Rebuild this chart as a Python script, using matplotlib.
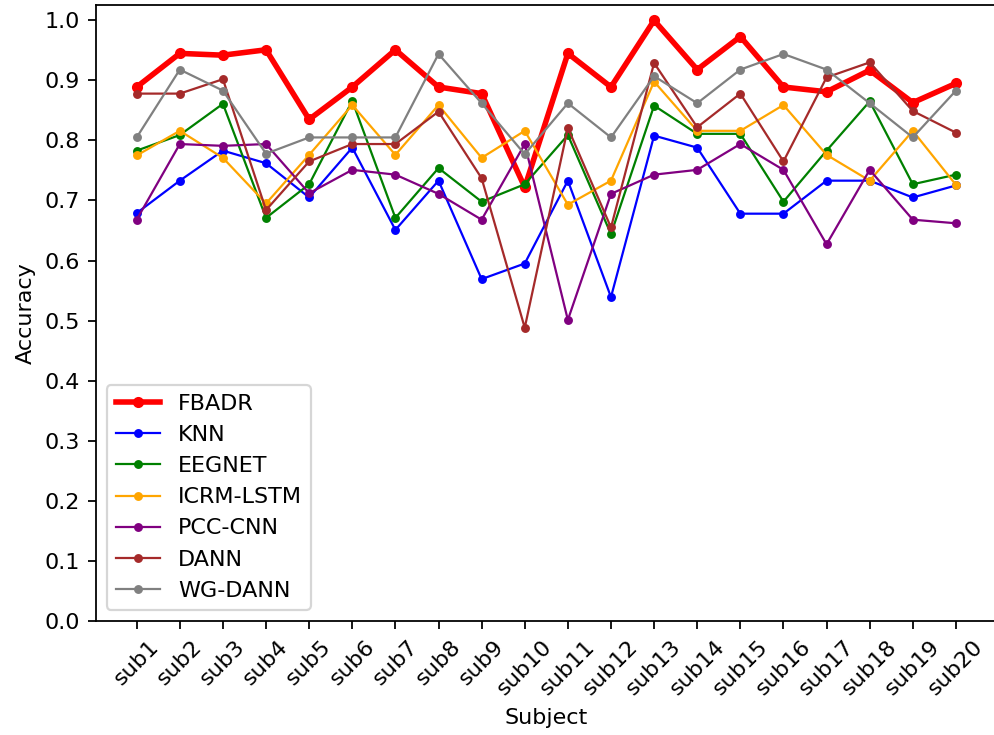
import numpy as np
import matplotlib
matplotlib.use("Agg")
import matplotlib.pyplot as plt

subjects = [f"sub{i}" for i in range(1, 21)]

fbadr = [0.889, 0.945, 0.942, 0.951, 0.835, 0.889, 0.951, 0.889, 0.878, 0.722,
         0.945, 0.889, 1.000, 0.918, 0.973, 0.889, 0.881, 0.917, 0.863, 0.895]
knn = [0.679, 0.733, 0.783, 0.762, 0.705, 0.788, 0.651, 0.733, 0.569, 0.595,
       0.733, 0.539, 0.808, 0.788, 0.678, 0.678, 0.733, 0.733, 0.705, 0.725]
eegnet = [0.783, 0.809, 0.861, 0.671, 0.727, 0.866, 0.671, 0.754, 0.698, 0.727,
          0.809, 0.644, 0.858, 0.811, 0.811, 0.698, 0.783, 0.865, 0.727, 0.743]
icrm_lstm = [0.775, 0.816, 0.771, 0.695, 0.776, 0.859, 0.776, 0.859, 0.771, 0.816,
             0.693, 0.733, 0.898, 0.816, 0.816, 0.859, 0.776, 0.733, 0.816, 0.726]
pcc_cnn = [0.668, 0.794, 0.791, 0.794, 0.712, 0.751, 0.743, 0.711, 0.668, 0.794,
           0.501, 0.711, 0.743, 0.751, 0.794, 0.751, 0.627, 0.751, 0.668, 0.662]
dann = [0.878, 0.878, 0.902, 0.684, 0.765, 0.794, 0.794, 0.848, 0.737, 0.488,
        0.821, 0.655, 0.929, 0.822, 0.878, 0.765, 0.905, 0.930, 0.849, 0.813]
wg_dann = [0.805, 0.918, 0.883, 0.778, 0.805, 0.805, 0.805, 0.944, 0.862, 0.777,
           0.862, 0.805, 0.907, 0.862, 0.918, 0.944, 0.918, 0.862, 0.805, 0.883]

series = [
    ("FBADR", fbadr, "red"),
    ("KNN", knn, "blue"),
    ("EEGNET", eegnet, "green"),
    ("ICRM-LSTM", icrm_lstm, "orange"),
    ("PCC-CNN", pcc_cnn, "purple"),
    ("DANN", dann, "brown"),
    ("WG-DANN", wg_dann, "gray"),
]

dpi = 160
fig = plt.figure(figsize=(994 / dpi, 735 / dpi), dpi=dpi)
# the original picture is cropped a little on the right, so the axes run past the edge
ax = fig.add_axes([0.0963, 0.1555, 0.9066, 0.8377])

x = np.arange(len(subjects))
for name, vals, color in series:
    if name == "FBADR":
        ax.plot(x, vals, marker="o", color=color, linewidth=2.5, markersize=4, label=name)
    else:
        ax.plot(x, vals, marker="o", color=color, linewidth=1, markersize=3, label=name)

ax.set_xticks(x)
ax.set_xticklabels(subjects, rotation=45)
ax.set_yticks(np.arange(0, 1.01, 0.1))
ax.set_ylim(bottom=0)
ax.set_xlabel("Subject")
ax.set_ylabel("Accuracy")
ax.legend(loc="lower left")

plt.savefig("out.png", dpi=dpi)
